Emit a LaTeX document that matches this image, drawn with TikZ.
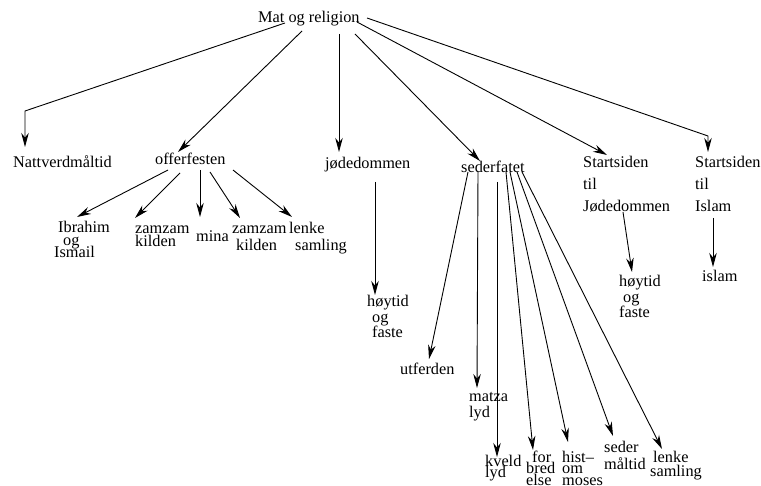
\documentclass[tikz,border=0pt]{standalone}
\usepackage{fontspec}
\setmainfont{Liberation Serif}
\usetikzlibrary{arrows.meta}

% first-line-baseline stack of left-aligned lines with a fixed line pitch
\newcommand\stk[2]{\vtop{\baselineskip=#1\lineskip=0pt\lineskiplimit=-100pt\halign{##\hfil\cr#2\crcr}}}

\begin{document}
\begin{tikzpicture}[x=1pt,y=-1pt,
  lbl/.style={inner sep=0pt,anchor=base west,font=\fontsize{16.3pt}{19pt}\selectfont},
  arr/.style={-{Stealth[length=14pt,width=7.5pt,inset=4.5pt]},line width=0.9pt}]
\useasboundingbox (0,0) rectangle (761,486);

% top level
\node[lbl] (root) at (258,23) {Mat og religion};
\node[lbl] (nat)  at (13,168)  {Nattverdmåltid};
\node[lbl] (off)  at (155,165) {offerfesten};
\node[lbl] (jod)  at (325,169) {jødedommen};
\node[lbl] (sed)  at (461,173) {sederfatet};
\node[lbl] (sj)   at (583,168) {\stk{22pt}{Startsiden\cr til\cr Jødedommen}};
\node[lbl] (si)   at (695,168) {\stk{22pt}{Startsiden\cr til\cr Islam}};

% offerfesten
\node[lbl] (ib)   at (54,233)  {\stk{12.5pt}{\kern4pt Ibrahim\cr\kern9pt og\cr Ismail}};
\node[lbl] (zz1)  at (135,234) {\stk{13pt}{zamzam\cr kilden}};
\node[lbl] (mina) at (196,242) {mina};
\node[lbl] (zz2)  at (232,234) {\stk{17pt}{zamzam\cr\kern4pt kilden}};
\node[lbl] (ls1)  at (289,234) {\stk{17pt}{lenke\cr\kern6pt samling}};

% jødedommen
\node[lbl] (hf1)  at (367,307) {\stk{15.5pt}{høytid\cr\kern5pt og\cr\kern5pt faste}};

% sederfatet
\node[lbl] (utf)  at (400,375) {utferden};
\node[lbl] (mat)  at (469,402) {\stk{16pt}{matza\cr lyd}};
\node[lbl] (kv)   at (485,467) {\stk{10.5pt}{kveld\cr lyd}};
\node[lbl] (fb)   at (526,462) {\stk{12pt}{\kern6pt for\cr bred\cr else}};
\node[lbl] (hom)  at (562,462) {\stk{12pt}{hist–\cr om\cr moses}};
\node[lbl] (sm)   at (604,453) {\stk{17pt}{seder\cr måltid}};
\node[lbl] (ls2)  at (650,462) {\stk{14pt}{\kern3pt lenke\cr samling}};

% startsider
\node[lbl] (hf2)  at (619,287) {\stk{15.5pt}{høytid\cr\kern4pt og\cr faste}};
\node[lbl] (isl)  at (702,282) {islam};

% connectors from the root
\draw[arr] ([shift={(27,0)}]root.base west) -- ([shift={(12,-57)}]nat.base west) -- ([shift={(12,-21)}]nat.base west);
\draw[arr] ([shift={(44,8)}]root.base west) -- ([shift={(23,-13)}]off.base west);
\draw[arr] ([shift={(81,11)}]root.base west) -- ([shift={(14,-17)}]jod.base west);
\draw[arr] ([shift={(97,11)}]root.base west) -- ([shift={(19,-12)}]sed.base west);
\draw[arr] ([shift={(99,-1)}]root.base west) -- ([shift={(24,-13)}]sj.base west);
\draw[arr] ([shift={(109,-5)}]root.base west) -- ([shift={(13,-32)}]si.base west) -- ([shift={(13,-16)}]si.base west);

% offerfesten children
\draw[arr] ([shift={(13,5)}]off.base west) -- ([shift={(23,-16)}]ib.base west);
\draw[arr] ([shift={(25,8)}]off.base west) -- ([shift={(0,-16)}]zz1.base west);
\draw[arr] ([shift={(45,5)}]off.base west) -- ([shift={(4,-25)}]mina.base west);
\draw[arr] ([shift={(55,7)}]off.base west) -- ([shift={(8,-16)}]zz2.base west);
\draw[arr] ([shift={(78,5)}]off.base west) -- ([shift={(3,-17)}]ls1.base west);

% jødedommen child
\draw[arr] ([shift={(50,13)}]jod.base west) -- ([shift={(8,-12)}]hf1.base west);

% sederfatet children
\draw[arr] ([shift={(7,-1)}]sed.base west)  -- ([shift={(29,-16)}]utf.base west);
\draw[arr] ([shift={(17,-1)}]sed.base west) -- ([shift={(8,-14)}]mat.base west);
\draw[arr] ([shift={(36,9)}]sed.base west)  -- ([shift={(12,-10)}]kv.base west);
\draw[arr] ([shift={(45,-1)}]sed.base west) -- ([shift={(7,-12)}]fb.base west);
\draw[arr] ([shift={(49,-1)}]sed.base west) -- ([shift={(6,-20)}]hom.base west);
\draw[arr] ([shift={(56,-1)}]sed.base west) -- ([shift={(9,-17)}]sm.base west);
\draw[arr] ([shift={(61,-1)}]sed.base west) -- ([shift={(12,-13)}]ls2.base west);

% startsider children
\draw[arr] ([shift={(40,44)}]sj.base west) -- ([shift={(13,-15)}]hf2.base west);
\draw[arr] ([shift={(18,50)}]si.base west) -- ([shift={(11,-15)}]isl.base west);
\end{tikzpicture}
\end{document}
